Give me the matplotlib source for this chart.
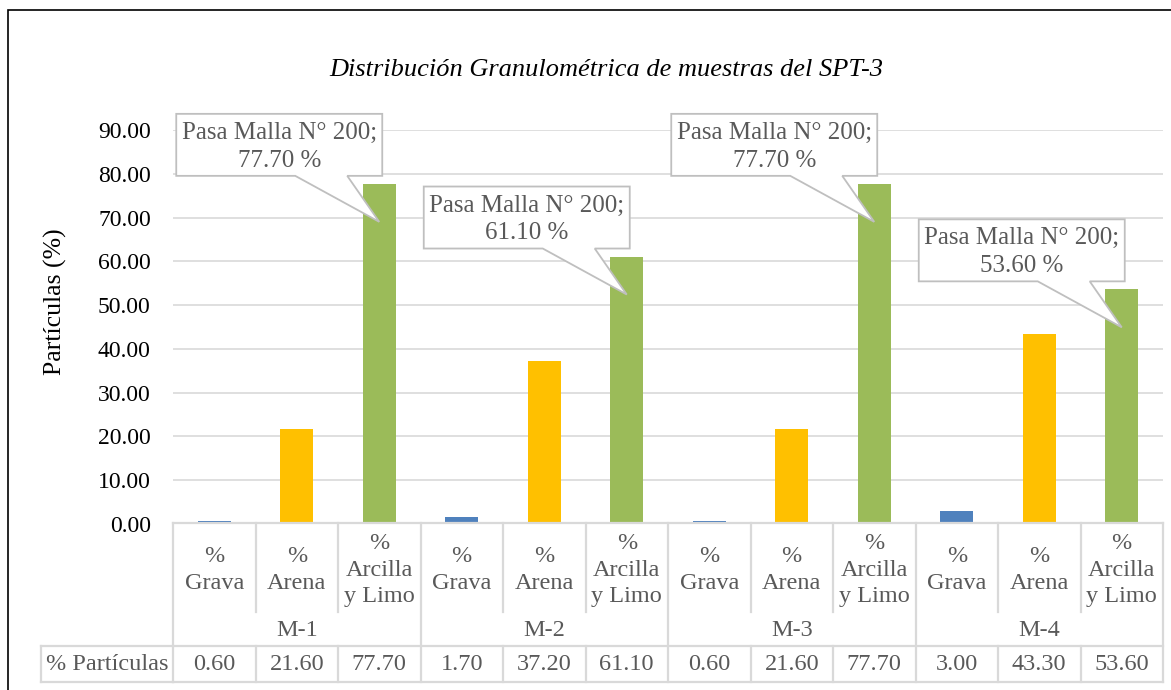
import numpy as np
import matplotlib
matplotlib.use("Agg")
import matplotlib.pyplot as plt
import matplotlib.transforms as mtransforms
from matplotlib.patches import Polygon, Rectangle

plt.rcParams["font.family"] = ["Liberation Serif", "DejaVu Serif"]

# Datos
MUESTRAS = ["M-1", "M-2", "M-3", "M-4"]
FRACCIONES = ["%\nGrava", "%\nArena", "%\nArcilla\ny Limo"]
GRAVA = [0.60, 1.70, 0.60, 3.00]
ARENA = [21.60, 37.20, 21.60, 43.30]
ARCILLA_LIMO = [77.70, 61.10, 77.70, 53.60]
Y_TICKS = [0, 10, 20, 30, 40, 50, 60, 70, 80, 90]
TITULO = "Distribución Granulométrica de muestras del SPT-3"
ETIQUETA_Y = "Partículas (%)"
FILA_TABLA = "% Partículas"
CALLOUT = "Pasa Malla N° 200;"

COLORES = ["#4F81BD", "#FFC000", "#9BBB59"]
GRIS_TXT = "#595959"
GRIS_LIN = "#D9D9D9"
FS_TICK = 17
FS_TAB = 17.5
FS_CALL = 18
FS_TIT = 19
FS_YLAB = 18.5

W, H = 1171, 690
fig = plt.figure(figsize=(W / 100, H / 100), dpi=100)

# marco exterior
fig.add_artist(Rectangle((8 / W, -0.05), 1.2, 1 - 10 / H + 0.05, transform=fig.transFigure,
                         fill=False, edgecolor="black", linewidth=1.2))

x0, x1, yb, yt = 173, 1163, 524, 130
ax = fig.add_axes([x0 / W, 1 - yb / H, (x1 - x0) / W, (yb - yt) / H])

valores = []
for i in range(len(MUESTRAS)):
    valores += [GRAVA[i], ARENA[i], ARCILLA_LIMO[i]]
n = len(valores)
xs = np.arange(n)
colores = [COLORES[k % 3] for k in range(n)]

ax.bar(xs, valores, width=0.4, color=colores, zorder=3)
ax.set_xlim(-0.5, n - 0.5)
ax.set_ylim(0, 90)
ax.set_yticks(Y_TICKS)
ax.set_yticklabels([f"{t:.2f}" for t in Y_TICKS], fontsize=FS_TICK)
ax.tick_params(axis="y", length=0, pad=16)
ax.set_xticks([])
ax.grid(axis="y", color=GRIS_LIN, linewidth=1.2, zorder=0)
for s in ax.spines.values():
    s.set_visible(False)

fig.text(606 / W, 1 - 70 / H, TITULO, ha="center", va="center", fontsize=FS_TIT, style="italic")
fig.text(55 / W, 1 - 302 / H, ETIQUETA_Y, rotation=90, ha="center", va="center", fontsize=FS_YLAB)

# tabla de datos
tr = mtransforms.blended_transform_factory(ax.transData, fig.transFigure)
fy = lambda p: 1 - p / H
lkw = dict(color=GRIS_LIN, linewidth=1.6, clip_on=False)
t_top, t_sub, t_grp, t_bot = 523, 612, 646, 682

fig.add_artist(plt.Line2D([-0.5, n - 0.5], [fy(t_top)] * 2, transform=tr, **lkw))
fig.add_artist(plt.Line2D([-0.5, n - 0.5], [fy(t_grp)] * 2, transform=tr, **lkw))
fig.add_artist(plt.Line2D([-0.5, n - 0.5], [fy(t_bot)] * 2, transform=tr, **lkw))
fig.add_artist(plt.Line2D([41 / W, x0 / W], [fy(t_grp)] * 2, transform=fig.transFigure, **lkw))
fig.add_artist(plt.Line2D([41 / W, x0 / W], [fy(t_bot)] * 2, transform=fig.transFigure, **lkw))
fig.add_artist(plt.Line2D([41 / W] * 2, [fy(t_grp), fy(t_bot)], transform=fig.transFigure, **lkw))
for k in range(n + 1):
    xb = k - 0.5
    if k % 3 == 0:
        fig.add_artist(plt.Line2D([xb, xb], [fy(t_top), fy(t_bot)], transform=tr, **lkw))
    else:
        fig.add_artist(plt.Line2D([xb, xb], [fy(t_top), fy(t_sub)], transform=tr, **lkw))
        fig.add_artist(plt.Line2D([xb, xb], [fy(t_grp), fy(t_bot)], transform=tr, **lkw))

for k in range(n):
    fig.text(k, fy(570), FRACCIONES[k % 3], transform=tr, ha="center", va="center",
             fontsize=FS_TAB, color=GRIS_TXT, linespacing=1.35)
    fig.text(k, fy(664), f"{valores[k]:.2f}", transform=tr, ha="center", va="center",
             fontsize=FS_TAB, color=GRIS_TXT)
for i, m in enumerate(MUESTRAS):
    fig.text(3 * i + 1, fy(630), m, transform=tr, ha="center", va="center",
             fontsize=FS_TAB, color=GRIS_TXT)
fig.text(107 / W, fy(664), FILA_TABLA, ha="center", va="center", fontsize=FS_TAB, color=GRIS_TXT)

# llamadas sobre las barras de arcilla y limo
ident = mtransforms.IdentityTransform()
for i, v in enumerate(ARCILLA_LIMO):
    px, py = ax.transData.transform((3 * i + 2, v))
    forma = [(-203, 8), (-84, 8), (0, -38), (-32, 8), (3, 8), (3, 70), (-203, 70)]
    poly = Polygon([(px + a, py + b) for a, b in forma], closed=True, transform=ident,
                   facecolor="white", edgecolor="#BFBFBF", linewidth=1.3, zorder=5)
    fig.add_artist(poly)
    fig.text(px - 100, py + 37, f"{CALLOUT}\n{v:.2f} %", transform=ident, ha="center",
             va="center", fontsize=FS_CALL, color=GRIS_TXT, linespacing=1.35, zorder=6)

fig.savefig("out.png", dpi=100)
